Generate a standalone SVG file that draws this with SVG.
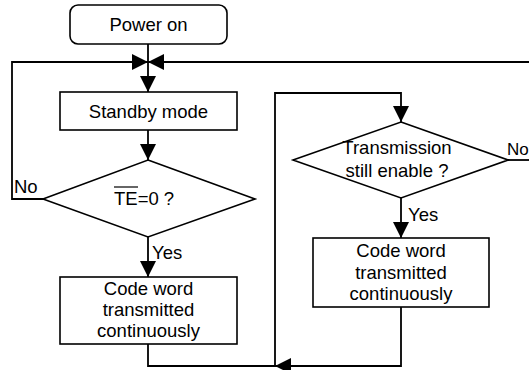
<svg xmlns="http://www.w3.org/2000/svg" width="529" height="370" viewBox="0 0 529 370">
<style>
.box{fill:#fff;stroke:#000;stroke-width:1.6}
.ln{fill:none;stroke:#000;stroke-width:1.8}
.t{font-family:"Liberation Sans",Arial,sans-serif;font-size:18.5px;fill:#000}
.c{text-anchor:middle}
</style>
<defs>
<marker id="ah" markerUnits="userSpaceOnUse" markerWidth="16" markerHeight="16" viewBox="0 0 14 14" refX="14" refY="7" orient="auto">
<path d="M0,0 L14,7 L0,14 Z" fill="#000"/>
</marker>
</defs>
<rect width="529" height="370" fill="#fff"/>
<g id="connectors">
<path class="ln" d="M148,44 V92" marker-end="url(#ah)"/>
<path class="ln" d="M148,130 V160" marker-end="url(#ah)"/>
<path class="ln" d="M148,237 V277" marker-end="url(#ah)"/>
<path class="ln" d="M43,199 H12 V62 H148" marker-end="url(#ah)"/>
<path class="ln" d="M529,62 H148" marker-end="url(#ah)"/>
<path class="ln" d="M148,344 V366 H275"/>
<path class="ln" d="M401,307 V366 H275" marker-end="url(#ah)"/>
<path class="ln" d="M275,366 V93 H401 V122" marker-end="url(#ah)"/>
<path class="ln" d="M401,198 V238" marker-end="url(#ah)"/>
<path class="ln" d="M508,160 H529"/>
</g>
<g id="power-on">
<rect class="box" x="70" y="5" width="157" height="39" rx="8"/>
<text class="t c" x="148.5" y="31">Power on</text>
</g>
<g id="standby">
<rect class="box" x="60" y="92" width="177" height="38"/>
<text class="t c" x="148.5" y="118">Standby mode</text>
</g>
<g id="te-decision">
<polygon class="box" points="148,160 255,199 148,237 43,199"/>
<text class="t" x="114" y="205">TE=0 ?</text>
<line x1="114" y1="187" x2="138" y2="187" stroke="#000" stroke-width="1.2"/>
<text class="t" x="14" y="193">No</text>
<text class="t" x="152" y="259">Yes</text>
</g>
<g id="code-word-left">
<rect class="box" x="60" y="277" width="177" height="67"/>
<text class="t c" x="148.5" y="295">Code word</text>
<text class="t c" x="148.5" y="316">transmitted</text>
<text class="t c" x="148.5" y="337">continuously</text>
</g>
<g id="transmission-decision">
<polygon class="box" points="401,122 508,160 401,198 293,160"/>
<text class="t c" x="397" y="154">Transmission</text>
<text class="t c" x="397" y="177">still enable ?</text>
<text class="t" x="507" y="155" style="font-size:17px">No</text>
<text class="t" x="408" y="221">Yes</text>
</g>
<g id="code-word-right">
<rect class="box" x="313" y="238" width="176" height="69"/>
<text class="t c" x="401" y="257">Code word</text>
<text class="t c" x="401" y="279">transmitted</text>
<text class="t c" x="401" y="300">continuously</text>
</g>
</svg>
